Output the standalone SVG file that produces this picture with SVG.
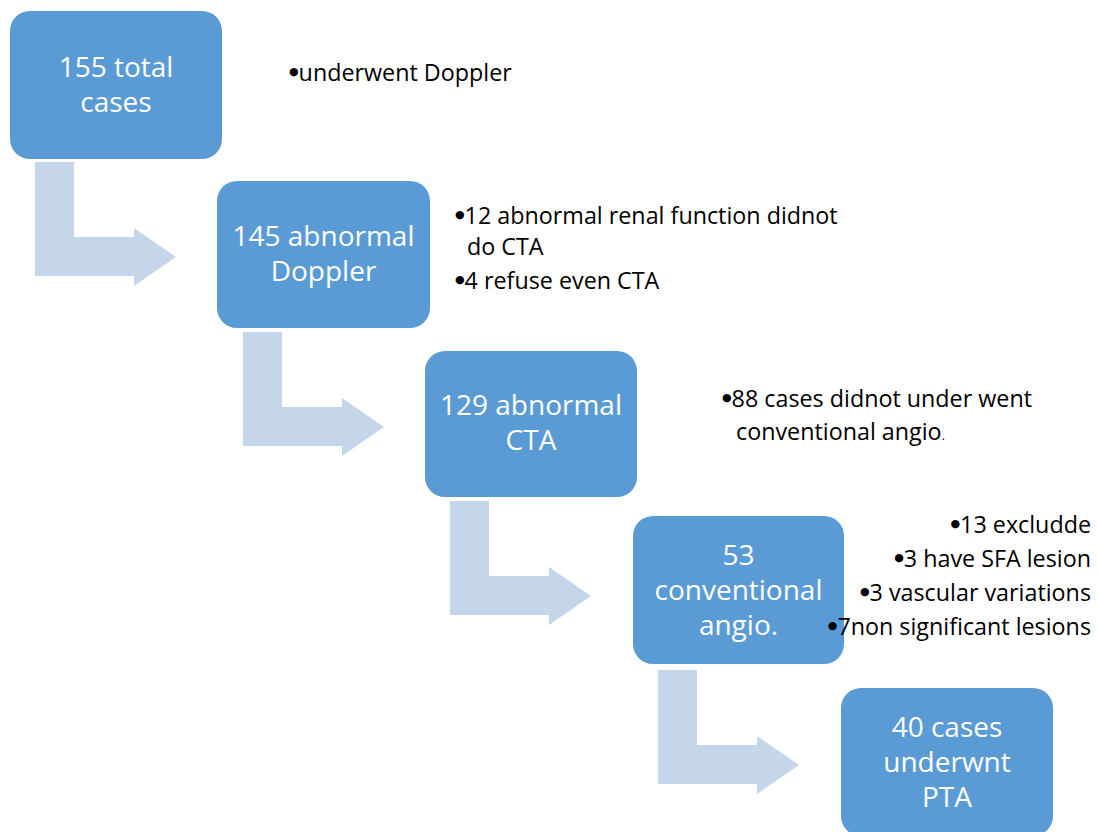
<svg xmlns="http://www.w3.org/2000/svg" width="1098" height="832" viewBox="0 0 1098 832">
<defs>
<style>
.box{fill:#5B9BD5;}
.bt{fill:#FFFFFF;font-family:"Open Sans","Liberation Sans",sans-serif;font-size:28px;text-anchor:middle;}
.arr{fill:#C5D5EA;}
.st{fill:#000000;font-family:"Open Sans","Liberation Sans",sans-serif;font-size:23.3px;}
.rt{text-anchor:end;}
.b{font-family:"DejaVu Sans",sans-serif;font-size:11px;baseline-shift:6px;}
</style>
<path id="bend" d="M0 0 H39 V75 H99 V66 L141 95 L99 124 V114 H0 Z"/>
</defs>
<rect width="1098" height="832" fill="#FFFFFF"/>
<g id="connectors">
<use href="#bend" class="arr" x="35" y="162"/>
<use href="#bend" class="arr" x="243" y="332"/>
<use href="#bend" class="arr" x="450" y="501"/>
<use href="#bend" class="arr" x="658" y="670"/>
</g>
<g id="n1">
<rect class="box" x="10" y="11" width="212" height="148" rx="20"/>
<text class="bt" x="116" y="77">155 total</text>
<text class="bt" x="116" y="112">cases</text>
</g>
<g id="n2">
<rect class="box" x="217" y="181" width="213" height="147" rx="20"/>
<text class="bt" x="323.5" y="246">145 abnormal</text>
<text class="bt" x="323.5" y="281">Doppler</text>
</g>
<g id="n3">
<rect class="box" x="425" y="351" width="212" height="146" rx="20"/>
<text class="bt" x="531" y="415">129 abnormal</text>
<text class="bt" x="531" y="450">CTA</text>
</g>
<g id="n4">
<rect class="box" x="633" y="516" width="211" height="148" rx="20"/>
<text class="bt" x="738.5" y="565">53</text>
<text class="bt" x="738.5" y="600">conventional</text>
<text class="bt" x="738.5" y="635">angio.</text>
</g>
<g id="n5">
<rect class="box" x="841" y="688" width="212" height="148" rx="20"/>
<text class="bt" x="947" y="737">40 cases</text>
<text class="bt" x="947" y="772">underwnt</text>
<text class="bt" x="947" y="807">PTA</text>
</g>
<g id="notes">
<text class="st" x="289" y="81"><tspan class="b">●</tspan>underwent Doppler</text>
<text class="st" x="455" y="224"><tspan class="b">●</tspan>12 abnormal renal function didnot</text>
<text class="st" x="467" y="255">do CTA</text>
<text class="st" x="455" y="289"><tspan class="b">●</tspan>4 refuse even CTA</text>
<text class="st" x="722" y="407"><tspan class="b">●</tspan>88 cases didnot under went</text>
<text class="st" x="736" y="440">conventional angio<tspan font-size="12px">.</tspan></text>
<text class="st rt" x="1091" y="533"><tspan class="b">●</tspan>13 excludde</text>
<text class="st rt" x="1091" y="567"><tspan class="b">●</tspan>3 have SFA lesion</text>
<text class="st rt" x="1091" y="601"><tspan class="b">●</tspan>3 vascular variations</text>
<text class="st rt" x="1091" y="635"><tspan class="b">●</tspan>7non significant lesions</text>
</g>
</svg>
